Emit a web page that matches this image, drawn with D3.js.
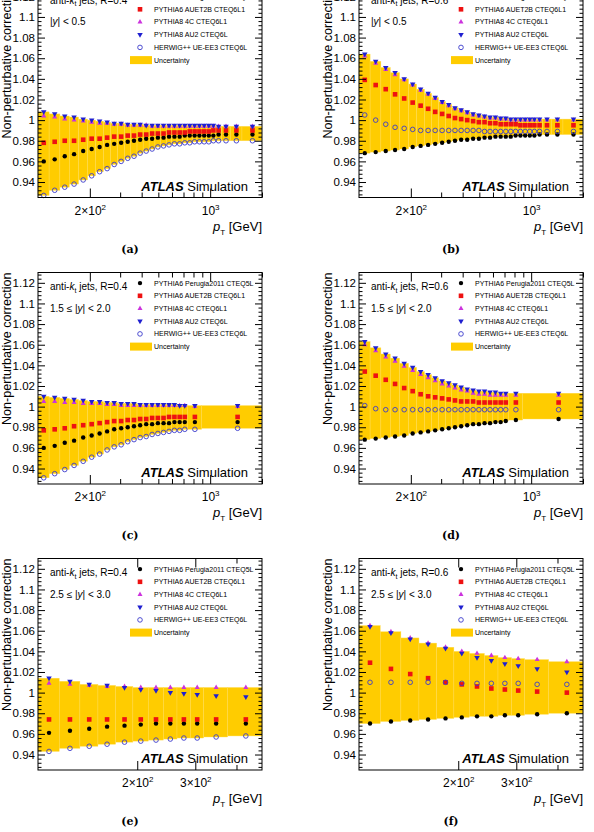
<!DOCTYPE html>
<html>
<head>
<meta charset="utf-8">
<script src="https://d3js.org/d3.v7.min.js"></script>
<style>
  body { margin: 0; background: #fff; }
  svg text { font-family: "Liberation Sans", Arial, Helvetica, sans-serif; }
</style>
</head>
<body>
<script>
// pT bin edges [GeV]
const edgesCentral = [100,116,134,152,172,194,216,240,264,290,318,346,376,408,442,478,516,556,598,642,688,736,786,838,894,952,1012,1076,1162,1310,1530,1992]
const edgesMid = [100,116,134,152,172,194,216,240,264,290,318,346,376,408,442,478,516,556,598,642,688,736,894,1992]
const edgesFwd = [100,116,134,152,172,194,216,240,264,290,318,376,478]

const models = ["PYTHIA6 Perugia2011 CTEQ5L", "PYTHIA6 AUET2B CTEQ6L1", "PYTHIA8 4C CTEQ6L1", "PYTHIA8 AU2 CTEQ6L", "HERWIG++ UE-EE3 CTEQ6L"]

// (a) R=0.4, |y|<0.5
const perugiaA = [0.960,0.962,0.965,0.967,0.970,0.972,0.974,0.976,0.977,0.978,0.979,0.980,0.981,0.982,0.982,0.983,0.983,0.984,0.984,0.984,0.985,0.985,0.985,0.985,0.985,0.985,0.985,0.986,0.986,0.986,0.986]
const auet2bA = [0.978,0.979,0.980,0.980,0.981,0.982,0.982,0.983,0.984,0.984,0.985,0.985,0.986,0.986,0.987,0.987,0.987,0.988,0.988,0.988,0.988,0.989,0.989,0.989,0.989,0.989,0.990,0.990,0.990,0.990,0.990]
const p8c4A = [1.004,1.003,1.001,1.000,0.999,0.998,0.997,0.997,0.996,0.996,0.995,0.995,0.995,0.995,0.994,0.994,0.994,0.994,0.994,0.994,0.994,0.994,0.994,0.994,0.994,0.994,0.994,0.994,0.994,0.994,0.994]
const au2A = [1.008,1.006,1.004,1.003,1.001,1.000,0.999,0.998,0.997,0.997,0.996,0.996,0.996,0.995,0.995,0.995,0.995,0.995,0.995,0.995,0.995,0.995,0.995,0.995,0.995,0.995,0.995,0.994,0.994,0.994,0.994]
const herwigA = [0.927,0.932,0.935,0.938,0.942,0.946,0.950,0.953,0.957,0.960,0.963,0.965,0.968,0.970,0.972,0.974,0.975,0.976,0.977,0.977,0.978,0.978,0.979,0.979,0.979,0.979,0.980,0.980,0.980,0.980,0.980]

// (b) R=0.6, |y|<0.5
const perugiaB = [0.968,0.969,0.970,0.971,0.972,0.974,0.975,0.976,0.977,0.978,0.979,0.980,0.981,0.981,0.982,0.982,0.983,0.983,0.984,0.984,0.984,0.984,0.985,0.985,0.985,0.985,0.985,0.986,0.986,0.986,0.986]
const auet2bB = [1.039,1.034,1.030,1.025,1.021,1.017,1.014,1.011,1.008,1.006,1.004,1.002,1.001,1.000,0.999,0.998,0.998,0.997,0.997,0.996,0.996,0.996,0.996,0.995,0.995,0.995,0.995,0.995,0.995,0.995,0.995]
const p8c4B = [1.062,1.055,1.049,1.044,1.039,1.034,1.029,1.025,1.021,1.017,1.014,1.011,1.009,1.007,1.005,1.004,1.003,1.002,1.002,1.001,1.001,1.000,1.000,1.000,1.000,1.000,1.000,1.000,1.000,1.000,1.000]
const au2B = [1.064,1.057,1.051,1.046,1.040,1.035,1.030,1.026,1.022,1.018,1.015,1.012,1.010,1.008,1.006,1.005,1.004,1.003,1.003,1.002,1.002,1.001,1.001,1.001,1.001,1.001,1.001,1.001,1.001,1.001,1.001]
const herwigB = [1.005,1.000,0.996,0.993,0.992,0.991,0.990,0.990,0.990,0.990,0.990,0.990,0.990,0.990,0.990,0.990,0.989,0.989,0.989,0.989,0.989,0.989,0.989,0.989,0.989,0.989,0.989,0.989,0.989,0.989,0.989]

// (c) R=0.4, 1.5<|y|<2.0
const perugiaC = [0.960,0.962,0.965,0.967,0.970,0.972,0.974,0.976,0.978,0.979,0.980,0.981,0.982,0.983,0.983,0.984,0.984,0.984,0.985,0.985,0.985,0.985,0.985]
const auet2bC = [0.977,0.978,0.979,0.981,0.982,0.983,0.984,0.985,0.986,0.986,0.987,0.987,0.988,0.988,0.989,0.989,0.989,0.990,0.990,0.990,0.990,0.990,0.990]
const p8c4C = [1.005,1.005,1.004,1.004,1.003,1.003,1.003,1.002,1.002,1.001,1.001,1.001,1.001,1.001,1.001,1.001,1.001,1.001,1.001,1.001,1.001,1.000,1.000]
const au2C = [1.010,1.009,1.008,1.007,1.006,1.005,1.005,1.004,1.004,1.003,1.003,1.003,1.002,1.002,1.002,1.002,1.002,1.002,1.002,1.001,1.001,1.001,1.001]
const herwigC = [0.931,0.935,0.939,0.943,0.947,0.951,0.954,0.958,0.961,0.963,0.966,0.968,0.970,0.971,0.973,0.974,0.975,0.976,0.977,0.977,0.978,0.978,0.979]

// (d) R=0.6, 1.5<|y|<2.0
const perugiaD = [0.968,0.969,0.970,0.971,0.972,0.974,0.975,0.976,0.977,0.978,0.979,0.980,0.981,0.982,0.983,0.983,0.984,0.984,0.985,0.985,0.986,0.987,0.988]
const auet2bD = [1.034,1.030,1.026,1.022,1.018,1.015,1.012,1.010,1.009,1.008,1.007,1.006,1.005,1.005,1.005,1.004,1.004,1.004,1.004,1.004,1.004,1.004,1.004]
const p8c4D = [1.060,1.054,1.048,1.044,1.039,1.035,1.031,1.028,1.025,1.022,1.020,1.018,1.016,1.015,1.013,1.012,1.012,1.011,1.011,1.011,1.011,1.011,1.011]
const au2D = [1.063,1.057,1.051,1.047,1.042,1.038,1.034,1.031,1.028,1.025,1.023,1.021,1.019,1.017,1.016,1.015,1.015,1.014,1.014,1.013,1.013,1.013,1.013]
const herwigD = [1.001,0.998,0.997,0.997,0.997,0.997,0.997,0.997,0.997,0.997,0.997,0.997,0.997,0.997,0.997,0.997,0.997,0.997,0.997,0.997,0.997,0.997,0.997]

// (e) R=0.4, 2.5<|y|<3.0
const perugiaE = [0.961,0.963,0.965,0.967,0.968,0.969,0.970,0.970,0.970,0.970,0.970,0.970]
const auet2bE = [0.974,0.974,0.974,0.974,0.974,0.974,0.974,0.974,0.974,0.974,0.974,0.974]
const p8c4E = [1.009,1.008,1.007,1.006,1.006,1.005,1.005,1.005,1.005,1.005,1.005,1.005]
const au2E = [1.014,1.011,1.008,1.007,1.005,1.003,1.002,1.000,0.999,0.998,0.997,0.996]
const herwigE = [0.943,0.946,0.948,0.950,0.952,0.953,0.954,0.955,0.956,0.956,0.957,0.958]

// (f) R=0.6, 2.5<|y|<3.0
const perugiaF = [0.970,0.972,0.973,0.974,0.975,0.976,0.977,0.977,0.978,0.978,0.979,0.980]
const auet2bF = [1.029,1.023,1.018,1.014,1.010,1.008,1.006,1.004,1.003,1.002,1.001,1.000]
const p8c4F = [1.065,1.059,1.053,1.048,1.044,1.040,1.038,1.036,1.034,1.033,1.032,1.030]
const au2F = [1.064,1.058,1.052,1.047,1.043,1.038,1.034,1.031,1.028,1.026,1.023,1.020]
const herwigF = [1.010,1.010,1.010,1.010,1.010,1.009,1.009,1.009,1.009,1.009,1.008,1.008]

const yTicks = [0.94,0.96,0.98,1.0,1.02,1.04,1.06,1.08,1.1,1.12]
const xTicksWide = [200,300,400,500,600,700,800,900,1000,2000]
const xLabelsWide = {200: ["2×10", "2"], 1000: ["10", "3"]}
const xTicksFwd = [200,300,400]
const xLabelsFwd = {200: ["2×10", "2"], 300: ["3×10", "2"]}

const W = 594, H = 832
const pw = 224, ph = 211.5
const bandColor = "#ffcc00"
const colors = ["#000000", "#ee1111", "#cc33dd", "#1f1fd0", "#3b3bcc"]

const svg = d3.select("body").append("svg")
    .attr("width", W)
    .attr("height", H)

const panels = [
    {left: 38, top: -14, R: "0.4", rap: ["", "| < 0.5"], edges: edgesCentral, dom: [100, 2000], ticks: xTicksWide, labels: xLabelsWide, caption: "(a)",
     series: [perugiaA, auet2bA, p8c4A, au2A, herwigA]},
    {left: 359, top: -14, R: "0.6", rap: ["", "| < 0.5"], edges: edgesCentral, dom: [100, 2000], ticks: xTicksWide, labels: xLabelsWide, caption: "(b)",
     series: [perugiaB, auet2bB, p8c4B, au2B, herwigB]},
    {left: 38, top: 272.5, R: "0.4", rap: ["1.5 ≤ ", "| < 2.0"], edges: edgesMid, dom: [100, 2000], ticks: xTicksWide, labels: xLabelsWide, caption: "(c)",
     series: [perugiaC, auet2bC, p8c4C, au2C, herwigC]},
    {left: 359, top: 272.5, R: "0.6", rap: ["1.5 ≤ ", "| < 2.0"], edges: edgesMid, dom: [100, 2000], ticks: xTicksWide, labels: xLabelsWide, caption: "(d)",
     series: [perugiaD, auet2bD, p8c4D, au2D, herwigD]},
    {left: 38, top: 558.5, R: "0.4", rap: ["2.5 ≤ ", "| < 3.0"], edges: edgesFwd, dom: [100, 478], ticks: xTicksFwd, labels: xLabelsFwd, caption: "(e)",
     series: [perugiaE, auet2bE, p8c4E, au2E, herwigE]},
    {left: 359, top: 558.5, R: "0.6", rap: ["2.5 ≤ ", "| < 3.0"], edges: edgesFwd, dom: [100, 478], ticks: xTicksFwd, labels: xLabelsFwd, caption: "(f)",
     series: [perugiaF, auet2bF, p8c4F, au2F, herwigF]}
]

// draw one marker of model k at (cx, cy)
function marker(g, k, cx, cy) {
    if (k == 0) {
        g.append("circle").attr("cx", cx).attr("cy", cy).attr("r", 2.2).attr("fill", colors[0])
    } else if (k == 1) {
        g.append("rect").attr("x", cx - 2.3).attr("y", cy - 2.3).attr("width", 4.6).attr("height", 4.6).attr("fill", colors[1])
    } else if (k == 2) {
        g.append("path").attr("d", d3.symbol(d3.symbolTriangle, 11)())
            .attr("transform", `translate(${cx},${cy})`).attr("fill", colors[2])
    } else if (k == 3) {
        g.append("path").attr("d", d3.symbol(d3.symbolTriangle, 13)())
            .attr("transform", `translate(${cx},${cy}) rotate(180)`).attr("fill", colors[3])
    } else {
        g.append("circle").attr("cx", cx).attr("cy", cy).attr("r", 2.3)
            .attr("fill", "none").attr("stroke", colors[4]).attr("stroke-width", 0.9)
    }
}

function drawPanel(p) {
    const x = d3.scaleLog().domain(p.dom).range([p.left, p.left + pw])
    const y = d3.scaleLinear().domain([0.925, 1.13]).range([p.top + ph, p.top])
    const right = p.left + pw, bottom = p.top + ph
    const g = svg.append("g")

    // uncertainty band: envelope of the models in each bin
    const bins = d3.range(p.edges.length - 1).map(i => {
        const vals = p.series.map(s => s[i])
        return {lo: p.edges[i], hi: p.edges[i + 1], min: d3.min(vals), max: d3.max(vals)}
    })
    g.append("g").selectAll("rect")
        .data(bins)
        .enter()
        .append("rect")
        .attr("x", d => x(d.lo))
        .attr("y", d => y(d.max))
        .attr("width", d => x(d.hi) - x(d.lo))
        .attr("height", d => y(d.min) - y(d.max))
        .attr("fill", bandColor)
        .attr("stroke", "#ffdc55")
        .attr("stroke-width", 0.4)

    // markers at bin centres
    const mg = g.append("g")
    p.series.forEach((s, k) => {
        s.forEach((v, i) => {
            const c = (p.edges[i] + p.edges[i + 1]) / 2
            marker(mg, k, x(c), y(v))
        })
    })

    // y axis ticks (inward, both sides)
    const minorY = d3.range(0.928, 1.13, 0.004).filter(v => !yTicks.some(t => Math.abs(t - v) < 1e-6))
    const fmt = v => String(+v.toFixed(2))
    const axL = g.append("g").attr("transform", `translate(${p.left},0)`)
    axL.call(d3.axisLeft(y).tickValues(yTicks).tickSize(-7).tickPadding(3).tickFormat(fmt))
    axL.append("g").call(d3.axisLeft(y).tickValues(minorY).tickSize(-3.5).tickFormat(""))
    const axR = g.append("g").attr("transform", `translate(${right},0)`)
    axR.call(d3.axisRight(y).tickValues(yTicks).tickSize(-7).tickFormat(""))
    axR.append("g").call(d3.axisRight(y).tickValues(minorY).tickSize(-3.5).tickFormat(""))

    // x axis ticks
    const bigX = v => p.labels[v] || v == 1000
    const axB = g.append("g").attr("transform", `translate(0,${bottom})`)
    axB.call(d3.axisBottom(x).tickValues(p.ticks).tickSizeInner(-5).tickFormat(""))
    axB.selectAll(".tick line").attr("y2", d => bigX(d) ? -9 : -5)
    axB.selectAll(".tick").filter(d => p.labels[d])
        .append("text")
        .attr("y", 17)
        .attr("fill", "#000")
        .attr("font-size", 12)
        .attr("text-anchor", "middle")
        .each(function(d) {
            const t = d3.select(this)
            t.append("tspan").text(p.labels[d][0])
            t.append("tspan").attr("dy", -5).attr("font-size", 8).text(p.labels[d][1])
        })
    const axT = g.append("g").attr("transform", `translate(0,${p.top})`)
    axT.call(d3.axisTop(x).tickValues(p.ticks).tickSizeInner(-5).tickFormat(""))
    axT.selectAll(".tick line").attr("y2", d => bigX(d) ? 9 : 5)

    g.selectAll(".domain").remove()
    g.selectAll(".tick text").attr("font-size", function() { return d3.select(this).attr("font-size") || 11.5 })
    g.selectAll(".tick line").attr("stroke", "#000")

    // frame
    g.append("rect")
        .attr("x", p.left).attr("y", p.top)
        .attr("width", pw).attr("height", ph)
        .attr("fill", "none").attr("stroke", "#000").attr("stroke-width", 1)

    // axis titles
    g.append("text")
        .attr("transform", `translate(${p.left - 27.5},${p.top}) rotate(-90)`)
        .attr("text-anchor", "end")
        .attr("font-size", 12.6)
        .text("Non-perturbative correction")
    const xt = g.append("text")
        .attr("x", right).attr("y", bottom + 33)
        .attr("text-anchor", "end")
        .attr("font-size", 13)
    xt.append("tspan").attr("font-style", "italic").text("p")
    xt.append("tspan").attr("font-size", 8).attr("dy", 4).text("T")
    xt.append("tspan").attr("dy", -4).text(" [GeV]")

    // labels inside the frame
    const lab = g.append("text").attr("x", p.left + 12).attr("y", p.top + 17.5).attr("font-size", 10)
    lab.append("tspan").text("anti-")
    lab.append("tspan").attr("font-style", "italic").text("k")
    lab.append("tspan").attr("font-size", 7).attr("dy", 2.5).text("t")
    lab.append("tspan").attr("dy", -2.5).text(" jets, R=" + p.R)
    const rap = g.append("text").attr("x", p.left + 12).attr("y", p.top + 39).attr("font-size", 10)
    rap.append("tspan").text(p.rap[0] + "|")
    rap.append("tspan").attr("font-style", "italic").text("y")
    rap.append("tspan").text(p.rap[1])

    const atl = g.append("text").attr("x", right - 14).attr("y", bottom - 7)
        .attr("text-anchor", "end").attr("font-size", 13)
    atl.append("tspan").attr("font-weight", "bold").attr("font-style", "italic").text("ATLAS")
    atl.append("tspan").text(" Simulation")

    // legend
    const rows = models.map((m, k) => p.top + 10.6 + k * 12.7)
    models.forEach((m, k) => {
        marker(g, k, p.left + 102, rows[k])
        g.append("text").attr("x", p.left + 116).attr("y", rows[k]).attr("dy", "0.35em")
            .attr("font-size", 7).text(m)
    })
    const uy = p.top + 10.6 + 5 * 12.7
    g.append("rect").attr("x", p.left + 92).attr("y", uy - 4).attr("width", 22).attr("height", 8).attr("fill", bandColor)
    g.append("text").attr("x", p.left + 116).attr("y", uy).attr("dy", "0.35em").attr("font-size", 7).text("Uncertainty")

    // caption
    g.append("text")
        .attr("x", p.left + 92).attr("y", bottom + 55)
        .attr("text-anchor", "middle")
        .attr("font-weight", "bold")
        .attr("font-size", 11)
        .style("font-family", "'DejaVu Serif', 'Liberation Serif', serif")
        .text(p.caption)
}

panels.forEach(drawPanel)
</script>
</body>
</html>
